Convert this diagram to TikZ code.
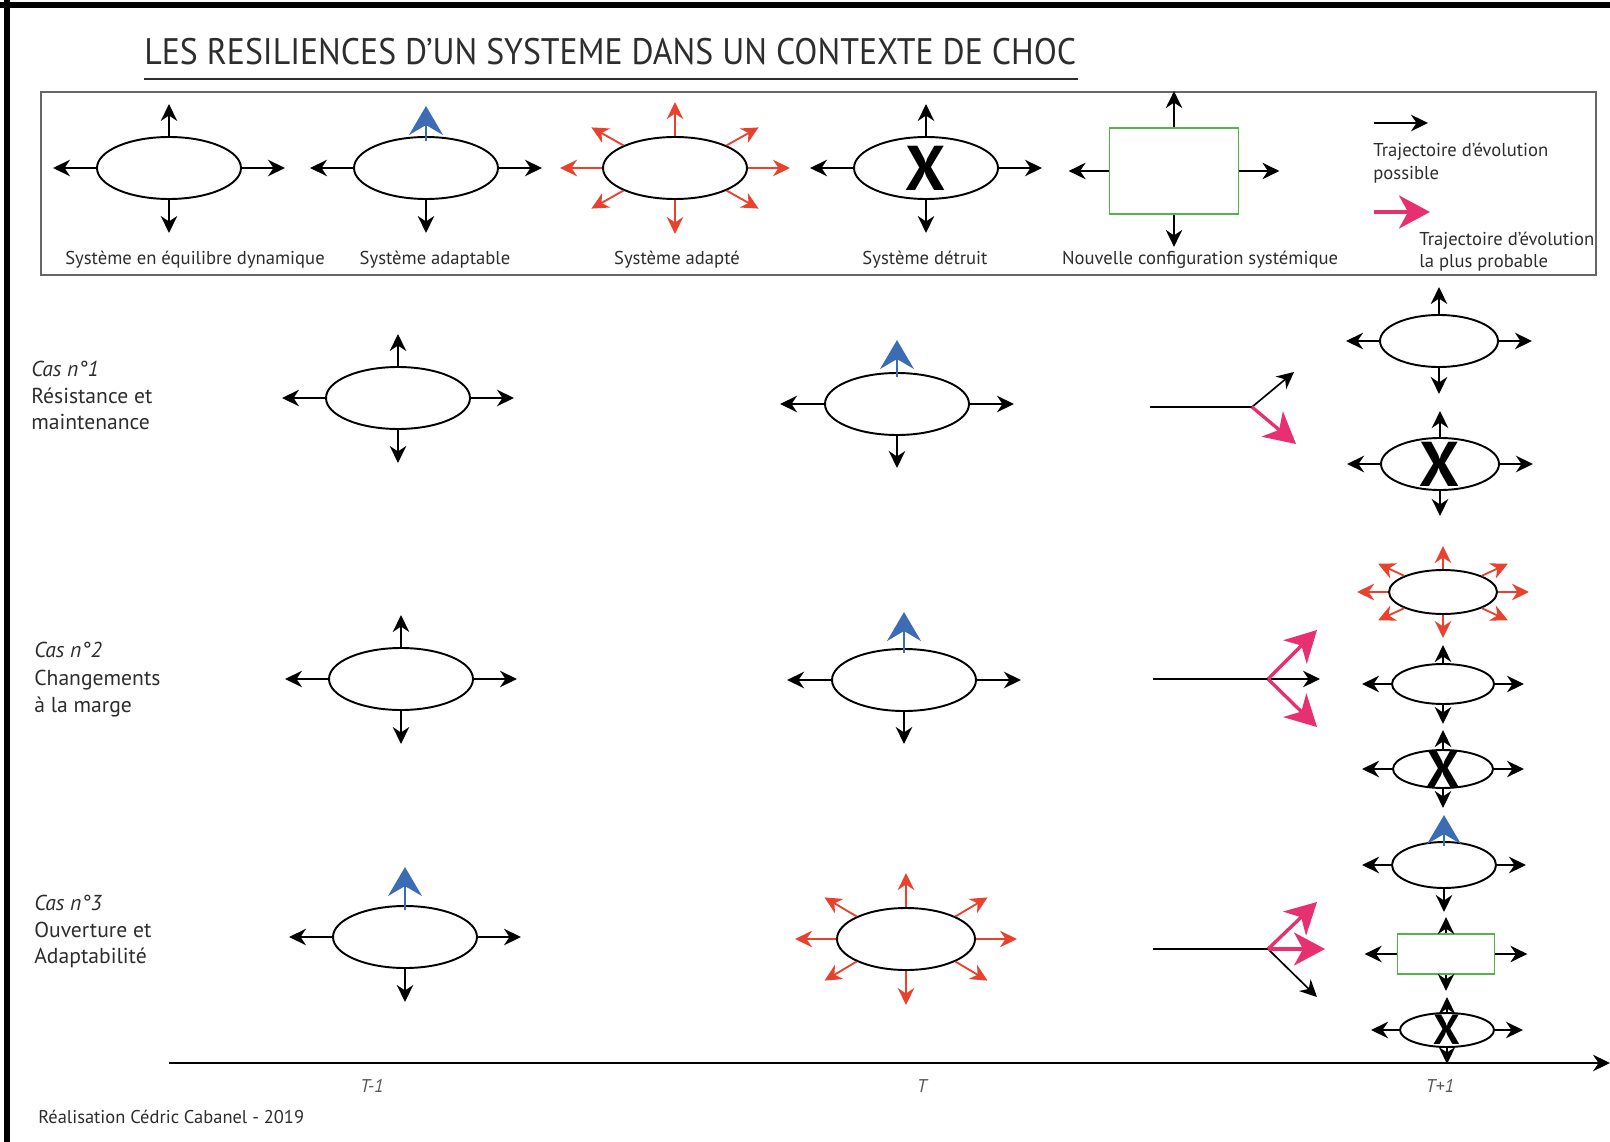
\documentclass[tikz,border=0pt]{standalone}
\usepackage{fontspec}
\setmainfont{PT Sans}
\newfontfamily\titre[FakeStretch=0.915]{PT Sans}
\usetikzlibrary{shapes.geometric,arrows.meta,calc}

\definecolor{texte}{RGB}{45,45,45}
\definecolor{rouge}{RGB}{232,66,46}
\definecolor{bleu}{RGB}{60,108,180}
\definecolor{rose}{RGB}{230,48,112}
\definecolor{vert}{RGB}{84,180,72}

% fleches noires ouest, est, sud
\newcommand{\cotes}[3]{%
  \coordinate (#1-o) at ($(#1.west)+(-#2,0)$);
  \coordinate (#1-e) at ($(#1.east)+(#2,0)$);
  \coordinate (#1-s) at ($(#1.south)+(0,#3)$);
  \draw[fl] (#1.west) -- (#1-o);
  \draw[fl] (#1.east) -- (#1-e);
  \draw[fl] (#1.south) -- (#1-s);
}
\newcommand{\haut}[2]{%
  \coordinate (#1-n) at ($(#1.north)+(0,-#2)$);
  \draw[fl] (#1.north) -- (#1-n);
}
\newcommand{\pointe}[2]{%
  \coordinate (#1-b) at ($(#1.north)+(0,5)$);
  \coordinate (#1-n) at ($(#1.north)+(0,-#2)$);
  \draw[flbleu] (#1-b) -- (#1-n);
}
% systeme adapte : huit fleches rouges
\newcommand{\rayons}[5]{%
  \coordinate (#1-n) at ($(#1.north)+(0,-#3)$);
  \coordinate (#1-s) at ($(#1.south)+(0,#3)$);
  \coordinate (#1-o) at ($(#1.west)+(-#2,0)$);
  \coordinate (#1-e) at ($(#1.east)+(#2,0)$);
  \coordinate (#1-no) at ($(#1.north west)+(-#4,-#5)$);
  \coordinate (#1-ne) at ($(#1.north east)+(#4,-#5)$);
  \coordinate (#1-so) at ($(#1.south west)+(-#4,#5)$);
  \coordinate (#1-se) at ($(#1.south east)+(#4,#5)$);
  \foreach \a/\b in {north/n,south/s,west/o,east/e,north west/no,north east/ne,south west/so,south east/se}
    \draw[flrouge] (#1.\a) -- (#1-\b);
}

\begin{document}
\begin{tikzpicture}[x=0.2mm,y=-0.2mm]
\tikzstyle{sys}=[draw, ellipse, line width=1.1pt, inner sep=0pt]
\tikzstyle{grand}=[minimum width=28.8mm, minimum height=12.4mm]
\tikzstyle{moyen}=[minimum width=23.6mm, minimum height=10.4mm]
\tikzstyle{config}=[draw=vert, line width=1pt, inner sep=0pt]
\tikzstyle{croix}=[inner sep=0pt, font=\bfseries\fontsize{36}{36}\selectfont]
\tikzstyle{fl}=[-{Stealth[length=3.4mm,width=3.3mm,inset=1.1mm]}, line width=0.95pt]
\tikzstyle{flrouge}=[fl, color=rouge, line width=1.05pt]
\tikzstyle{flbleu}=[-{Stealth[length=5.8mm,width=6.8mm,inset=2mm]}, line width=1pt, color=bleu]
\tikzstyle{flrose}=[-{Stealth[length=6.2mm,width=6.6mm,inset=1.8mm]}, line width=1.9pt, color=rose]
\tikzstyle{trait}=[line width=0.9pt]
\tikzstyle{leg}=[anchor=base, text=texte, font=\fontsize{10.6}{12}\selectfont, inner sep=0pt]
\tikzstyle{cas}=[anchor=base west, text=texte, font=\fontsize{12.3}{14}\selectfont, inner sep=0pt]
\tikzstyle{temps}=[anchor=base, text=texte!80, font=\itshape\fontsize{10.5}{12}\selectfont, inner sep=0pt]

\useasboundingbox (0,0) rectangle (1610,1142);
\fill (0,2) rectangle (1610,8);
\fill (4,0) rectangle (10,1142);

\node[anchor=base west, inner sep=0pt, text=texte, font=\titre\fontsize{21}{24}\selectfont] (titre) at (144,65) {LES RESILIENCES D’UN SYSTEME DANS UN CONTEXTE DE CHOC};
\draw[line width=1.6pt, texte] (144,79) -- (1078,79);

% legende
\draw[line width=0.9pt, black!60] (41,92) rectangle (1596,275);

\node[sys,grand] (l1) at (169,168) {};
\haut{l1}{32} \cotes{l1}{43}{33}
\node[leg] (l1t) at (195,265) {Système en équilibre dynamique};

\node[sys,grand] (l2) at (426,168) {};
\cotes{l2}{43}{33} \pointe{l2}{30}
\node[leg] (l2t) at (435,265) {Système adaptable};

\node[sys,grand] (l3) at (675,168) {};
\rayons{l3}{42}{34}{32}{18}
\node[leg] (l3t) at (677,265) {Système adapté};

\node[sys,grand] (l4) at (926,168) {};
\node[croix] (l4x) at (l4) {X};
\haut{l4}{32} \cotes{l4}{43}{33}
\node[leg] (l4t) at (925,265) {Système détruit};

\node[config, minimum width=25.8mm, minimum height=17.2mm] (l5) at (1174,171) {};
\haut{l5}{36} \cotes{l5}{40}{32}
\node[leg] (l5t) at (1200,265) {Nouvelle configuration systémique};

\coordinate (p1) at (1374,123); \coordinate (p2) at (1428,123);
\draw[fl] (p1) -- (p2);
\node[leg, anchor=base west] (p3) at (1373,157) {Trajectoire d’évolution};
\node[leg, anchor=base west] (p4) at (1373,180) {possible};
\coordinate (q1) at (1374,212); \coordinate (q2) at (1430,212);
\draw[flrose] (q1) -- (q2);
\node[leg, anchor=base west] (q3) at (1419,246) {Trajectoire d’évolution};
\node[leg, anchor=base west] (q4) at (1419,268) {la plus probable};

% cas 1
\node[cas, font=\itshape\fontsize{12.3}{14}\selectfont] (c1a) at (31,376) {Cas n°1};
\node[cas] (c1b) at (31,403) {Résistance et};
\node[cas] (c1c) at (31,429) {maintenance};
\node[sys,grand] (a1) at (398,398) {};
\haut{a1}{32} \cotes{a1}{43}{33}
\node[sys,grand] (b1) at (897,404) {};
\pointe{b1}{32} \cotes{b1}{44}{32}
\coordinate (f1) at (1150,407); \coordinate (f1j) at (1252,407);
\coordinate (f1h) at (1294,372); \coordinate (f1b) at (1296,444);
\draw[trait] (f1) -- (f1j);
\draw[fl] (f1j) -- (f1h);
\draw[flrose] (f1j) -- (f1b);
\node[sys,moyen] (c1) at (1439,341) {};
\haut{c1}{27} \cotes{c1}{33}{26}
\node[sys,moyen] (d1) at (1440,464) {};
\node[croix] (d1x) at (d1) {X};
\haut{d1}{26} \cotes{d1}{33}{25}

% cas 2
\node[cas, font=\itshape\fontsize{12.3}{14}\selectfont] (c2a) at (34,657) {Cas n°2};
\node[cas] (c2b) at (34,685) {Changements};
\node[cas] (c2c) at (34,712) {à la marge};
\node[sys,grand] (a2) at (401,679) {};
\haut{a2}{32} \cotes{a2}{43}{33}
\node[sys,grand] (b2) at (904,680) {};
\pointe{b2}{36} \cotes{b2}{44}{32}
\coordinate (f2) at (1153,679); \coordinate (f2j) at (1268,679);
\coordinate (f2h) at (1317,630); \coordinate (f2m) at (1320,679); \coordinate (f2b) at (1317,727);
\draw[trait] (f2) -- (f2j);
\draw[fl] (f2j) -- (f2m);
\draw[flrose] (f2j) -- (f2h);
\draw[flrose] (f2j) -- (f2b);
\node[sys, minimum width=21.6mm, minimum height=8.8mm] (c2) at (1443,592) {};
\rayons{c2}{31}{23}{26}{12}
\node[sys, minimum width=20.4mm, minimum height=8mm] (d2) at (1443,684) {};
\haut{d2}{18} \cotes{d2}{29}{19}
\node[sys, minimum width=20mm, minimum height=7.6mm] (e2) at (1443,769) {};
\node[croix, font=\bfseries\fontsize{30}{30}\selectfont] (e2x) at (e2) {X};
\haut{e2}{19} \cotes{e2}{30}{19}

% cas 3
\node[cas, font=\itshape\fontsize{12.3}{14}\selectfont] (c3a) at (34,910) {Cas n°3};
\node[cas] (c3b) at (34,937) {Ouverture et};
\node[cas] (c3c) at (34,963) {Adaptabilité};
\node[sys,grand] (a3) at (405,937) {};
\pointe{a3}{38} \cotes{a3}{43}{33}
\node[sys, minimum width=27.6mm, minimum height=12.4mm] (b3) at (906,939) {};
\rayons{b3}{41}{34}{32}{19}
\coordinate (f3) at (1153,949); \coordinate (f3j) at (1268,949);
\coordinate (f3h) at (1317,902); \coordinate (f3m) at (1325,949); \coordinate (f3b) at (1317,997);
\draw[trait] (f3) -- (f3j);
\draw[fl] (f3j) -- (f3b);
\draw[flrose] (f3j) -- (f3h);
\draw[flrose] (f3j) -- (f3m);
\node[sys, minimum width=20.8mm, minimum height=9.2mm] (c3) at (1444,865) {};
\pointe{c3}{26} \cotes{c3}{29}{23}
\node[config, minimum width=19.4mm, minimum height=8mm] (d3) at (1446,954) {};
\haut{d3}{16} \cotes{d3}{32}{16}
\node[sys, minimum width=18.8mm, minimum height=6.8mm] (e3) at (1447,1030) {};
\node[croix, font=\bfseries\fontsize{24}{24}\selectfont] (e3x) at (e3) {X};
\haut{e3}{15} \cotes{e3}{28}{16}

% axe du temps
\coordinate (t0) at (169,1063); \coordinate (t1) at (1610,1063);
\draw[fl, line width=0.8pt] (t0) -- (t1);
\node[temps] (tm1) at (372,1092) {T-1};
\node[temps] (tm2) at (922,1092) {T};
\node[temps] (tm3) at (1440,1092) {T+1};

\node[cas, font=\fontsize{10.5}{12}\selectfont] (auteur) at (38,1123) {Réalisation Cédric Cabanel - 2019};
\end{tikzpicture}
\end{document}
